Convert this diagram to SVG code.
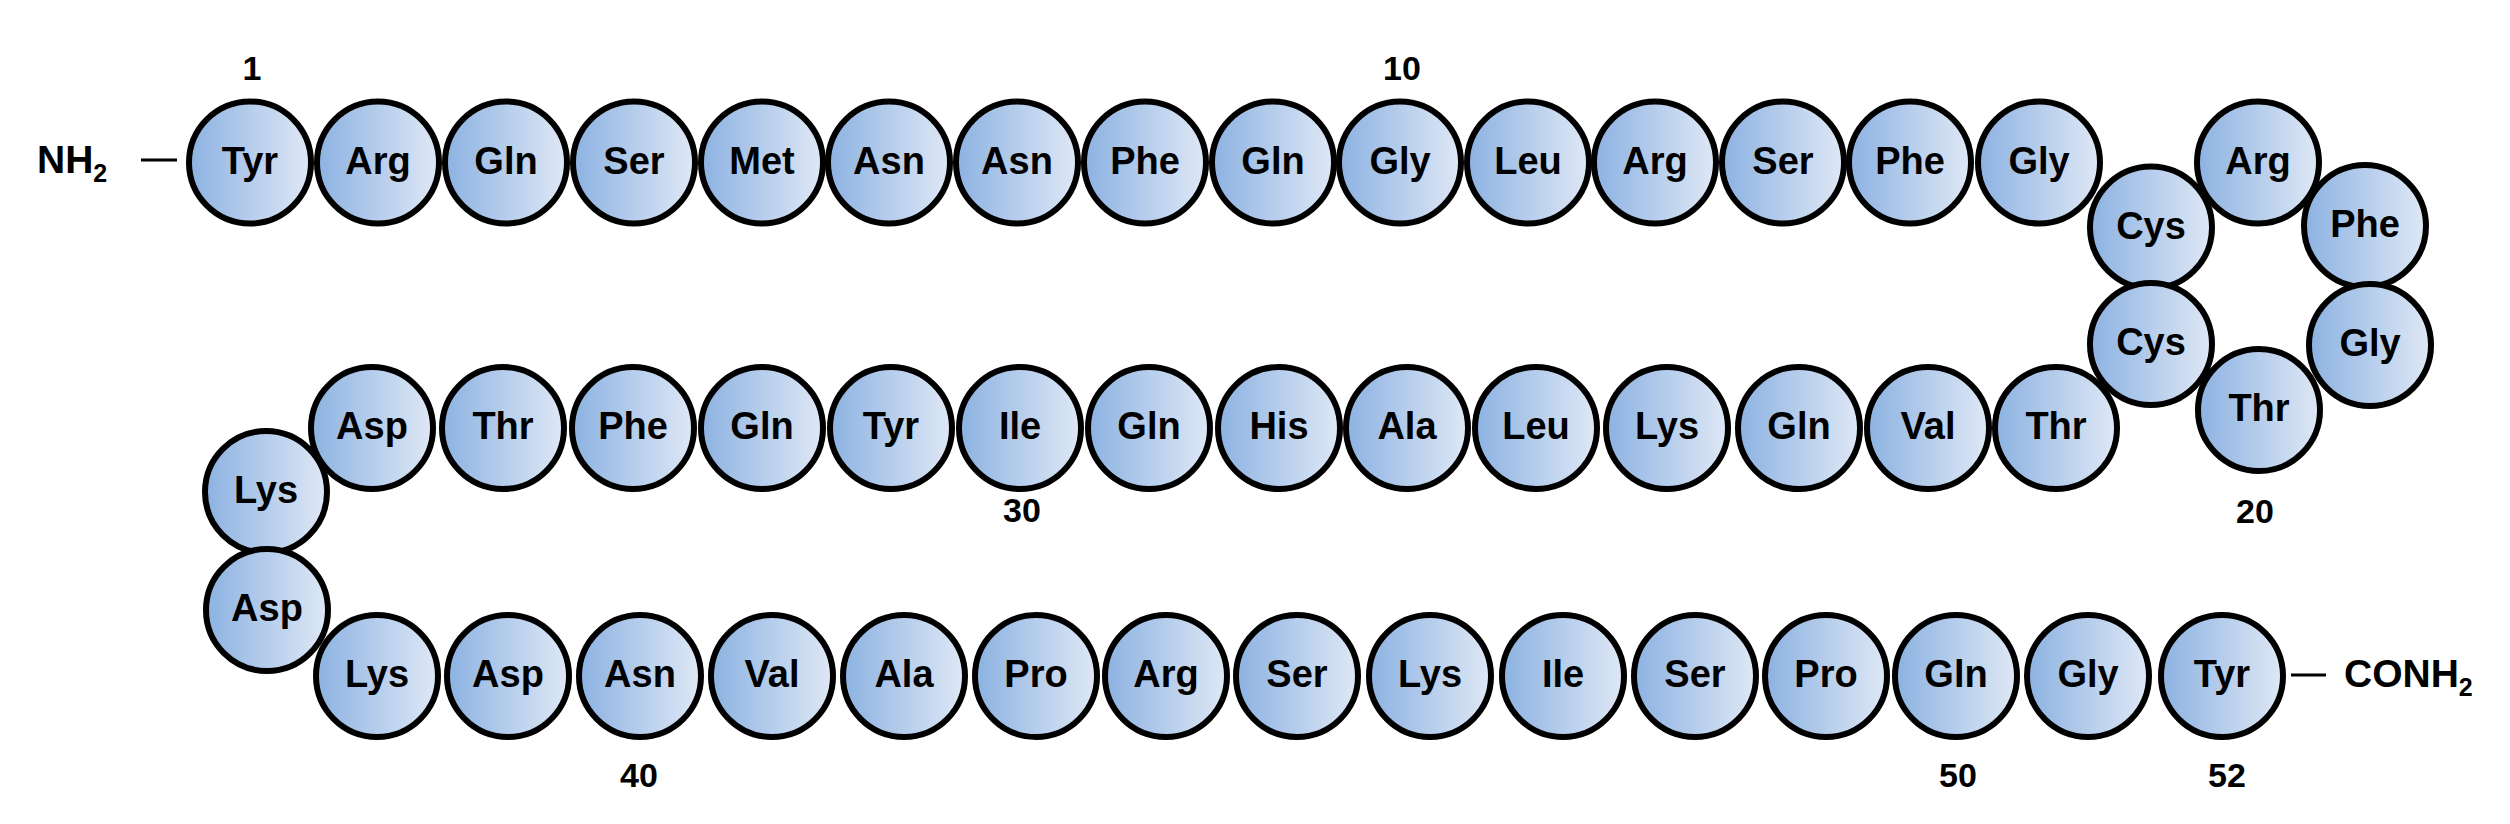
<svg xmlns="http://www.w3.org/2000/svg" width="2510" height="824" viewBox="0 0 2510 824">
<style>
.r{fill:url(#g);stroke:#000;stroke-width:6}
.t{font-family:"Liberation Sans",Arial,sans-serif;font-weight:bold;font-size:38px;text-anchor:middle;fill:#000}
.n{font-family:"Liberation Sans",Arial,sans-serif;font-weight:bold;font-size:34px;text-anchor:middle;fill:#000}
.e{font-family:"Liberation Sans",Arial,sans-serif;font-weight:bold;font-size:39px;fill:#000}
.c{stroke:#000;stroke-width:3;fill:none}
</style>
<defs>
<linearGradient id="g" x1="0" y1="0" x2="1" y2="0">
<stop offset="0" stop-color="#8cb2e2"/>
<stop offset="1" stop-color="#dfe8f5"/>
</linearGradient>
</defs>
<rect width="2510" height="824" fill="#fff"/>
<g id="connectors">
<line class="c" x1="141" y1="160" x2="177" y2="160"/>
<line class="c" x1="2291" y1="675" x2="2326" y2="675"/>
</g>
<g id="termini">
<text id="nterm" class="e" x="37" y="173">NH<tspan font-size="25" dy="9">2</tspan></text>
<text id="cterm" class="e" x="2344" y="687">CONH<tspan font-size="25" dy="9">2</tspan></text>
</g>
<g id="numbers">
<text class="n" x="252" y="80">1</text>
<text class="n" x="1402" y="80">10</text>
<text class="n" x="2255" y="523">20</text>
<text class="n" x="1022" y="522">30</text>
<text class="n" x="639" y="787">40</text>
<text class="n" x="1958" y="787">50</text>
<text class="n" x="2227" y="787">52</text>
</g>
<g id="residues">
<g id="r1"><circle class="r" cx="250" cy="162.5" r="61"/><text class="t" x="250" y="174">Tyr</text></g>
<g id="r2"><circle class="r" cx="378" cy="162.5" r="61"/><text class="t" x="378" y="174">Arg</text></g>
<g id="r3"><circle class="r" cx="506" cy="162.5" r="61"/><text class="t" x="506" y="174">Gln</text></g>
<g id="r4"><circle class="r" cx="634" cy="162.5" r="61"/><text class="t" x="634" y="174">Ser</text></g>
<g id="r5"><circle class="r" cx="762" cy="162.5" r="61"/><text class="t" x="762" y="174">Met</text></g>
<g id="r6"><circle class="r" cx="889" cy="162.5" r="61"/><text class="t" x="889" y="174">Asn</text></g>
<g id="r7"><circle class="r" cx="1017" cy="162.5" r="61"/><text class="t" x="1017" y="174">Asn</text></g>
<g id="r8"><circle class="r" cx="1145" cy="162.5" r="61"/><text class="t" x="1145" y="174">Phe</text></g>
<g id="r9"><circle class="r" cx="1273" cy="162.5" r="61"/><text class="t" x="1273" y="174">Gln</text></g>
<g id="r10"><circle class="r" cx="1400" cy="162.5" r="61"/><text class="t" x="1400" y="174">Gly</text></g>
<g id="r11"><circle class="r" cx="1528" cy="162.5" r="61"/><text class="t" x="1528" y="174">Leu</text></g>
<g id="r12"><circle class="r" cx="1655" cy="162.5" r="61"/><text class="t" x="1655" y="174">Arg</text></g>
<g id="r13"><circle class="r" cx="1783" cy="162.5" r="61"/><text class="t" x="1783" y="174">Ser</text></g>
<g id="r14"><circle class="r" cx="1910" cy="162.5" r="61"/><text class="t" x="1910" y="174">Phe</text></g>
<g id="r15"><circle class="r" cx="2039" cy="162.5" r="61"/><text class="t" x="2039" y="174">Gly</text></g>
<g id="r16"><circle class="r" cx="2151" cy="227.5" r="61"/><text class="t" x="2151" y="239">Cys</text></g>
<g id="r17"><circle class="r" cx="2258" cy="162.5" r="61"/><text class="t" x="2258" y="174">Arg</text></g>
<g id="r18"><circle class="r" cx="2365" cy="226" r="61"/><text class="t" x="2365" y="237">Phe</text></g>
<g id="r19"><circle class="r" cx="2370" cy="345" r="61"/><text class="t" x="2370" y="356">Gly</text></g>
<g id="r20"><circle class="r" cx="2259" cy="410" r="61"/><text class="t" x="2259" y="421">Thr</text></g>
<g id="r21"><circle class="r" cx="2151" cy="344" r="61"/><text class="t" x="2151" y="355">Cys</text></g>
<g id="r22"><circle class="r" cx="2056" cy="428" r="61"/><text class="t" x="2056" y="439">Thr</text></g>
<g id="r23"><circle class="r" cx="1928" cy="428" r="61"/><text class="t" x="1928" y="439">Val</text></g>
<g id="r24"><circle class="r" cx="1799" cy="428" r="61"/><text class="t" x="1799" y="439">Gln</text></g>
<g id="r25"><circle class="r" cx="1667" cy="428" r="61"/><text class="t" x="1667" y="439">Lys</text></g>
<g id="r26"><circle class="r" cx="1536" cy="428" r="61"/><text class="t" x="1536" y="439">Leu</text></g>
<g id="r27"><circle class="r" cx="1407" cy="428" r="61"/><text class="t" x="1407" y="439">Ala</text></g>
<g id="r28"><circle class="r" cx="1279" cy="428" r="61"/><text class="t" x="1279" y="439">His</text></g>
<g id="r29"><circle class="r" cx="1149" cy="428" r="61"/><text class="t" x="1149" y="439">Gln</text></g>
<g id="r30"><circle class="r" cx="1020" cy="428" r="61"/><text class="t" x="1020" y="439">Ile</text></g>
<g id="r31"><circle class="r" cx="891" cy="428" r="61"/><text class="t" x="891" y="439">Tyr</text></g>
<g id="r32"><circle class="r" cx="762" cy="428" r="61"/><text class="t" x="762" y="439">Gln</text></g>
<g id="r33"><circle class="r" cx="633" cy="428" r="61"/><text class="t" x="633" y="439">Phe</text></g>
<g id="r34"><circle class="r" cx="503" cy="428" r="61"/><text class="t" x="503" y="439">Thr</text></g>
<g id="r35"><circle class="r" cx="372" cy="428" r="61"/><text class="t" x="372" y="439">Asp</text></g>
<g id="r36"><circle class="r" cx="266" cy="492" r="61"/><text class="t" x="266" y="503">Lys</text></g>
<g id="r37"><circle class="r" cx="267" cy="610" r="61"/><text class="t" x="267" y="621">Asp</text></g>
<g id="r38"><circle class="r" cx="377" cy="676" r="61"/><text class="t" x="377" y="687">Lys</text></g>
<g id="r39"><circle class="r" cx="508" cy="676" r="61"/><text class="t" x="508" y="687">Asp</text></g>
<g id="r40"><circle class="r" cx="640" cy="676" r="61"/><text class="t" x="640" y="687">Asn</text></g>
<g id="r41"><circle class="r" cx="772" cy="676" r="61"/><text class="t" x="772" y="687">Val</text></g>
<g id="r42"><circle class="r" cx="904" cy="676" r="61"/><text class="t" x="904" y="687">Ala</text></g>
<g id="r43"><circle class="r" cx="1036" cy="676" r="61"/><text class="t" x="1036" y="687">Pro</text></g>
<g id="r44"><circle class="r" cx="1166" cy="676" r="61"/><text class="t" x="1166" y="687">Arg</text></g>
<g id="r45"><circle class="r" cx="1297" cy="676" r="61"/><text class="t" x="1297" y="687">Ser</text></g>
<g id="r46"><circle class="r" cx="1430" cy="676" r="61"/><text class="t" x="1430" y="687">Lys</text></g>
<g id="r47"><circle class="r" cx="1563" cy="676" r="61"/><text class="t" x="1563" y="687">Ile</text></g>
<g id="r48"><circle class="r" cx="1695" cy="676" r="61"/><text class="t" x="1695" y="687">Ser</text></g>
<g id="r49"><circle class="r" cx="1826" cy="676" r="61"/><text class="t" x="1826" y="687">Pro</text></g>
<g id="r50"><circle class="r" cx="1956" cy="676" r="61"/><text class="t" x="1956" y="687">Gln</text></g>
<g id="r51"><circle class="r" cx="2088" cy="676" r="61"/><text class="t" x="2088" y="687">Gly</text></g>
<g id="r52"><circle class="r" cx="2222" cy="676" r="61"/><text class="t" x="2222" y="687">Tyr</text></g>
</g>
</svg>
